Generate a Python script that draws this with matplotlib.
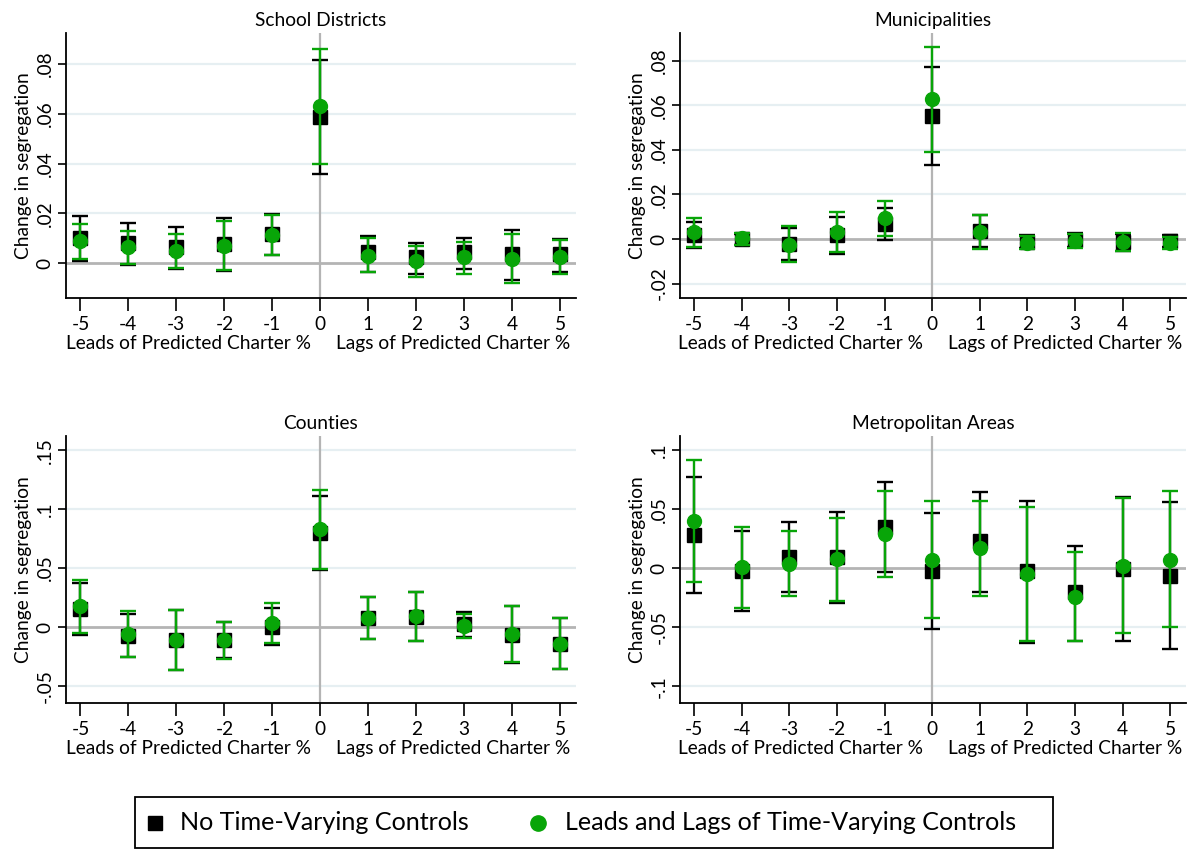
import matplotlib
matplotlib.use("Agg")
import matplotlib.pyplot as plt
from matplotlib.ticker import FuncFormatter
from matplotlib.lines import Line2D
from matplotlib.patches import Rectangle
import numpy as np

plt.rcParams['font.family'] = ['Lato', 'DejaVu Sans']

periods = [-5, -4, -3, -2, -1, 0, 1, 2, 3, 4, 5]
xtick_labels = ["-5", "-4", "-3", "-2", "-1", "0", "1", "2", "3", "4", "5"]

titles = ["School Districts", "Municipalities", "Counties", "Metropolitan Areas"]

# School Districts
sd_black = [0.010, 0.0082, 0.0064, 0.0077, 0.0117, 0.0587, 0.0043, 0.0024, 0.0044, 0.0037, 0.0037]
sd_black_hi = [0.0189, 0.0160, 0.0144, 0.0181, 0.0198, 0.0817, 0.0110, 0.0080, 0.0101, 0.0132, 0.0097]
sd_black_lo = [0.0007, -0.0007, -0.0023, -0.0033, 0.0033, 0.0359, -0.0036, -0.0044, -0.0024, -0.0069, -0.0037]
sd_green = [0.009, 0.0064, 0.005, 0.007, 0.0113, 0.0631, 0.003, 0.0007, 0.0024, 0.0017, 0.0024]
sd_green_hi = [0.0158, 0.0128, 0.0117, 0.0169, 0.0195, 0.0862, 0.0102, 0.0069, 0.0086, 0.0116, 0.0093]
sd_green_lo = [0.0015, -0.0004, -0.0020, -0.0027, 0.0033, 0.0399, -0.0036, -0.0056, -0.0043, -0.0081, -0.0044]

# Municipalities
mu_black = [0.0018, 0.0, -0.0022, 0.0016, 0.0066, 0.0553, 0.0036, -0.0012, -0.0005, -0.0012, -0.0007]
mu_black_hi = [0.0078, 0.0022, 0.0048, 0.0100, 0.0140, 0.0773, 0.0108, 0.0018, 0.0025, 0.0022, 0.0018]
mu_black_lo = [-0.0042, -0.0025, -0.0094, -0.0067, -0.0004, 0.0333, -0.0037, -0.0042, -0.0037, -0.0052, -0.0037]
mu_green = [0.003, 0.0003, -0.0027, 0.003, 0.0093, 0.0628, 0.0033, -0.0016, -0.0007, -0.0015, -0.0019]
mu_green_hi = [0.0094, 0.0025, 0.0058, 0.0120, 0.0169, 0.0863, 0.0108, 0.0013, 0.0022, 0.0025, 0.0007]
mu_green_lo = [-0.0037, -0.0027, -0.0102, -0.0057, 0.0015, 0.0391, -0.0045, -0.0046, -0.0042, -0.0052, -0.0046]

# Counties
co_black = [0.0152, -0.0079, -0.0107, -0.0107, -0.0003, 0.080, 0.0076, 0.0087, 0.0023, -0.0068, -0.0144]
co_black_hi = [0.0372, 0.0110, 0.0147, 0.0040, 0.0161, 0.1114, 0.0259, 0.0293, 0.0127, 0.0175, 0.0076]
co_black_lo = [-0.0070, -0.0254, -0.0361, -0.0262, -0.0155, 0.0485, -0.0101, -0.0121, -0.0085, -0.0304, -0.0355]
co_green = [0.0175, -0.0059, -0.0107, -0.0113, 0.0034, 0.0829, 0.0076, 0.009, 0.0011, -0.0059, -0.0141]
co_green_hi = [0.0400, 0.0133, 0.0147, 0.0045, 0.0200, 0.1162, 0.0259, 0.0296, 0.0110, 0.0180, 0.0076]
co_green_lo = [-0.0051, -0.0254, -0.0367, -0.0268, -0.0135, 0.0490, -0.0101, -0.0121, -0.0093, -0.0299, -0.0355]

# Metropolitan Areas
me_black = [0.0282, -0.0025, 0.0099, 0.0093, 0.0346, -0.002, 0.0234, -0.0025, -0.0203, -0.0006, -0.0062]
me_black_hi = [0.0769, 0.0318, 0.0394, 0.0473, 0.0727, 0.0468, 0.0642, 0.0572, 0.0192, 0.0606, 0.0558]
me_black_lo = [-0.0208, -0.0363, -0.0203, -0.0293, -0.0028, -0.0515, -0.0197, -0.0631, -0.0617, -0.0617, -0.0682]
me_green = [0.0403, 0.0008, 0.0037, 0.0079, 0.029, 0.0073, 0.0169, -0.0048, -0.0239, 0.0023, 0.0073]
me_green_hi = [0.0918, 0.0346, 0.0313, 0.0425, 0.0656, 0.0572, 0.0566, 0.0515, 0.0135, 0.0594, 0.0651]
me_green_lo = [-0.0118, -0.0338, -0.0237, -0.0279, -0.0076, -0.0423, -0.0231, -0.0611, -0.0611, -0.0549, -0.0493]

panel_yticks = [
    [0, 0.02, 0.04, 0.06, 0.08],
    [-0.02, 0, 0.02, 0.04, 0.06, 0.08],
    [-0.05, 0, 0.05, 0.1, 0.15],
    [-0.1, -0.05, 0, 0.05, 0.1],
]
panel_ylims = [(-0.014, 0.0925), (-0.0265, 0.0925), (-0.0644, 0.162), (-0.114, 0.112)]

panels = [
    (sd_black, sd_black_lo, sd_black_hi, sd_green, sd_green_lo, sd_green_hi),
    (mu_black, mu_black_lo, mu_black_hi, mu_green, mu_green_lo, mu_green_hi),
    (co_black, co_black_lo, co_black_hi, co_green, co_green_lo, co_green_hi),
    (me_black, me_black_lo, me_black_hi, me_green, me_green_lo, me_green_hi),
]

legend_labels = ["No Time-Varying Controls", "Leads and Lags of Time-Varying Controls"]

GREEN = "#08a508"
GRID = "#e6eff2"
ZERO = "#b4b4b4"
FS = 13.8

W, H = 1196, 850
fig = plt.figure(figsize=(W / 100, H / 100), dpi=100)

def rect(l, r, t, b):
    return [l / W, 1 - b / H, (r - l) / W, (b - t) / H]

rect_px = [(66, 576, 33, 298), (680, 1186, 33, 298),
           (66, 576, 436, 703), (680, 1186, 436, 703)]

def fmt(v, pos):
    if abs(v) < 1e-12:
        return "0"
    s = f"{v:g}"
    s = s.replace("0.", ".")
    return s

for i, (vals, rp) in enumerate(zip(panels, rect_px)):
    bk, bklo, bkhi, gr, grlo, grhi = [np.array(v) for v in vals]
    ax = fig.add_axes(rect(*rp))
    hpx = rp[3] - rp[2]
    x = np.array(periods)
    for yt in panel_yticks[i]:
        if abs(yt) > 1e-12:
            ax.axhline(yt, color=GRID, lw=1.6, zorder=0)
    ax.axhline(0, color=ZERO, lw=2.0, zorder=1)
    ax.axvline(0, color=ZERO, lw=1.6, zorder=1)
    ax.errorbar(x, bk, yerr=[bk - bklo, bkhi - bk], fmt='s', color='black',
                ms=9.5, elinewidth=1.7, capsize=6, capthick=1.7, zorder=3)
    ax.errorbar(x, gr, yerr=[gr - grlo, grhi - gr], fmt='o', color=GREEN,
                ms=10, elinewidth=1.7, capsize=6, capthick=1.7, zorder=4)
    ax.set_xlim(-5.3, 5.33)
    ax.set_ylim(*panel_ylims[i])
    ax.set_xticks(periods)
    ax.set_xticklabels(xtick_labels, fontsize=FS)
    ax.set_yticks(panel_yticks[i])
    ax.yaxis.set_major_formatter(FuncFormatter(fmt))
    for lab in ax.get_yticklabels():
        lab.set_rotation(90)
        lab.set_va('center')
        lab.set_fontsize(FS)
    ax.tick_params(axis='x', length=9, width=1.2, pad=4, direction='out')
    ax.tick_params(axis='y', length=6, width=1.2, pad=3, direction='out')
    for s in ['top', 'right']:
        ax.spines[s].set_visible(False)
    for s in ['left', 'bottom']:
        ax.spines[s].set_linewidth(1.3)
    ax.set_title(titles[i], fontsize=FS, pad=5)
    ax.set_ylabel("Change in segregation", fontsize=FS, labelpad=3)
    yoff = -37.0 / hpx
    ax.text(-0.2, yoff, "Leads of Predicted Charter %", transform=ax.get_xaxis_transform(),
            ha='right', va='top', fontsize=FS)
    ax.text(0.32, yoff, "Lags of Predicted Charter %", transform=ax.get_xaxis_transform(),
            ha='left', va='top', fontsize=FS)

# Legend drawn manually in figure pixel coordinates
def fx(px):
    return px / W

def fy(py):
    return 1 - py / H

fig.patches.append(Rectangle((fx(135), fy(848)), fx(1053) - fx(135), fy(797) - fy(848),
                             transform=fig.transFigure, fill=False, edgecolor='black',
                             linewidth=1.3, zorder=5))
ly = fy(823)
fig.lines.append(Line2D([fx(155)], [ly], marker='s', color='black', ms=10.5,
                        ls='none', transform=fig.transFigure))
fig.text(fx(180), ly, legend_labels[0], fontsize=18.1, ha='left', va='center')
fig.lines.append(Line2D([fx(538)], [ly], marker='o', color=GREEN, ms=11,
                        ls='none', transform=fig.transFigure))
fig.text(fx(565), ly, legend_labels[1], fontsize=18.1, ha='left', va='center')

fig.savefig("out.png", dpi=100, facecolor='white')
